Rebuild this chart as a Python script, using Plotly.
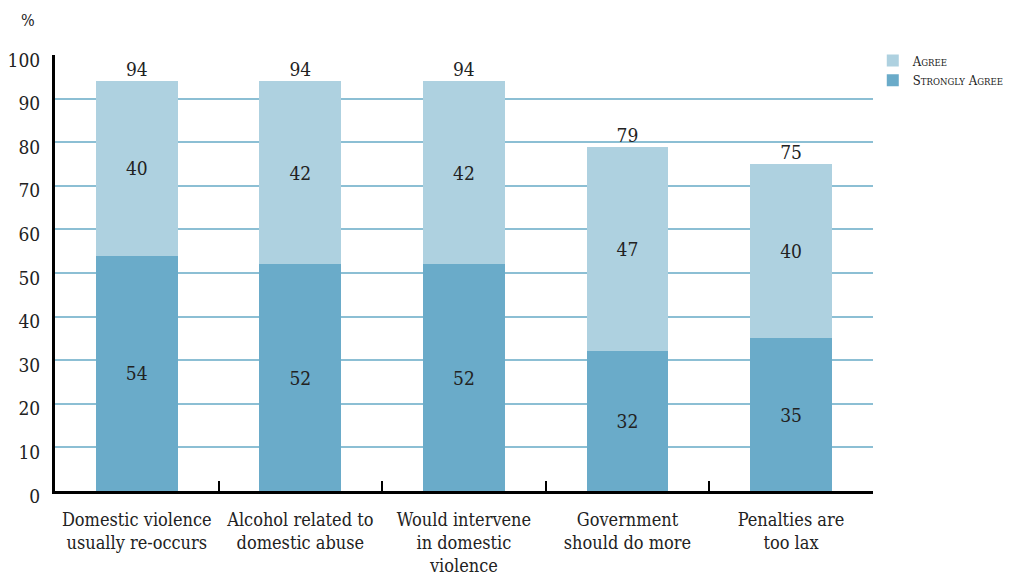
import plotly.graph_objects as go

categories = ["Domestic violence<br>usually re-occurs", "Alcohol related to<br>domestic abuse",
              "Would intervene<br>in domestic<br>violence", "Government<br>should do more",
              "Penalties are<br>too lax"]
strongly_agree = [54, 52, 52, 32, 35]
agree = [40, 42, 42, 47, 40]
totals = [94, 94, 94, 79, 75]

FONT = "DejaVu Serif Condensed"
C_STRONG = "#6aabc9"
C_AGREE = "#aed1e0"

def smallcaps(s, small=9.5):
    out = []
    for word in s.split(" "):
        out.append(word[0] + f"<span style='font-size:{small}px'>{word[1:].upper()}</span>")
    return " ".join(out)

fig = go.Figure()
fig.add_trace(go.Bar(x=categories, y=strongly_agree, name=smallcaps("Strongly Agree"),
                     marker=dict(color=C_STRONG, line=dict(width=0)), width=0.5,
                     text=strongly_agree, textposition="inside", insidetextanchor="middle",
                     textfont=dict(family=FONT, size=19, color="#222")))
fig.add_trace(go.Bar(x=categories, y=agree, name=smallcaps("Agree"),
                     marker=dict(color=C_AGREE, line=dict(width=0)), width=0.5,
                     text=agree, textposition="inside", insidetextanchor="middle",
                     textfont=dict(family=FONT, size=19, color="#222")))
fig.add_trace(go.Scatter(x=categories, y=totals, mode="text", text=[str(t) for t in totals],
                         textposition="top center", showlegend=False, hoverinfo="skip",
                         textfont=dict(family=FONT, size=19, color="#222"), cliponaxis=False))

fig.update_layout(
    barmode="stack",
    width=1015, height=577,
    margin=dict(l=47, r=147, t=47, b=94),
    paper_bgcolor="white", plot_bgcolor="white",
    font=dict(family=FONT, size=19, color="#222"),
    uniformtext=dict(mode="show", minsize=19),
    legend=dict(xref="container", yref="container", x=0.852, y=0.935,
                xanchor="left", yanchor="top", traceorder="reversed",
                font=dict(family=FONT, size=13, color="#222"), itemwidth=30,
                tracegroupgap=0, bgcolor="rgba(0,0,0,0)"),
    xaxis=dict(showline=True, linecolor="black", linewidth=3, tickson="boundaries",
               ticks="inside", ticklen=10, tickwidth=2, tickcolor="black",
               showgrid=False, tickangle=0, automargin=False, ticklabelstandoff=10,
               tickfont=dict(family=FONT, size=18, color="#222")),
    yaxis=dict(range=[0, 100], dtick=10, showline=True, linecolor="black", linewidth=3,
               showgrid=True, gridcolor="#8cbfd4", gridwidth=1.5, zeroline=False,
               ticks="", automargin=False, ticklabelshift=5,
               tickfont=dict(family=FONT, size=19, color="#222"), ticklabelstandoff=8),
    annotations=[dict(text="%", xref="paper", yref="paper", x=-0.022, y=1.08,
                      xanchor="right", yanchor="middle", showarrow=False,
                      font=dict(family=FONT, size=16, color="#222"))],
)

fig.write_html("out.html")
